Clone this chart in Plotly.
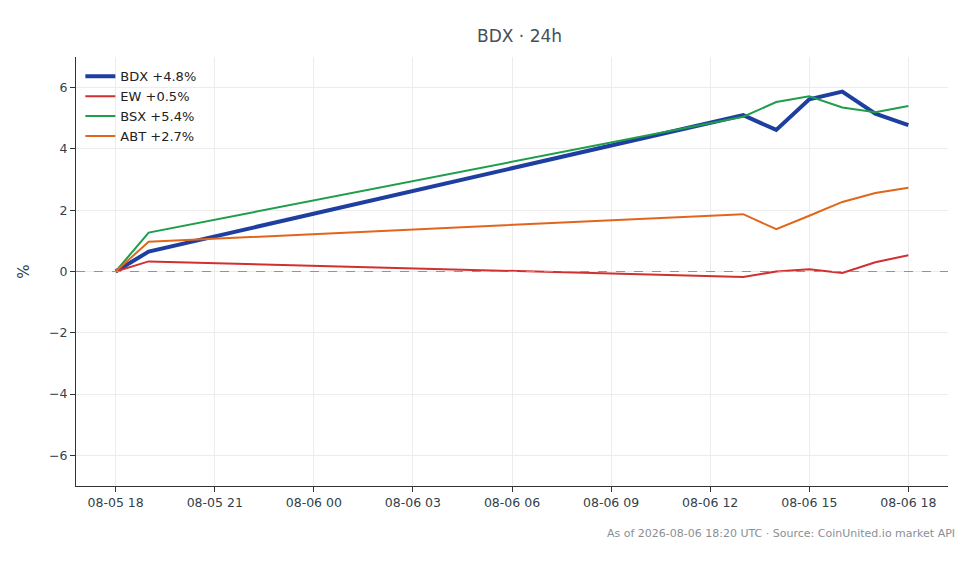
import plotly.graph_objects as go

times = ["2026-08-05 18:00", "2026-08-05 19:00", "2026-08-06 13:00", "2026-08-06 14:00",
         "2026-08-06 15:00", "2026-08-06 16:00", "2026-08-06 17:00", "2026-08-06 18:00"]
bdx = [0, 0.65, 5.1, 4.62, 5.62, 5.87, 5.15, 4.78]
ew = [0, 0.33, -0.18, 0.0, 0.07, -0.05, 0.3, 0.53]
bsx = [0, 1.27, 5.05, 5.53, 5.72, 5.35, 5.2, 5.4]
abt = [0, 0.97, 1.87, 1.38, 1.82, 2.27, 2.56, 2.73]

series = [("BDX +4.8%", bdx, "#1f3fa0", 4), ("EW +0.5%", ew, "#d03030", 2),
          ("BSX +5.4%", bsx, "#1e9e4a", 2), ("ABT +2.7%", abt, "#e0661c", 2)]

fig = go.Figure()
for name, vals, color, w in series:
    fig.add_trace(go.Scatter(x=times, y=vals, name=name, mode="lines",
                             line=dict(color=color, width=w)))

fig.add_hline(y=0, line=dict(color="#8a96a3", width=1, dash="dash"))

fig.update_layout(
    width=980, height=564, plot_bgcolor="white", paper_bgcolor="white",
    font=dict(family="DejaVu Sans", size=12.5, color="#333"),
    title=dict(text="BDX · 24h", x=0.522, xanchor="center", y=0.96,
               font=dict(size=17, color="#444f5a")),
    margin=dict(l=68, r=40, t=49, b=86),
    showlegend=True,
    legend=dict(x=0.005, y=0.99, xanchor="left", yanchor="top", bgcolor="rgba(255,255,255,0)",
                font=dict(size=13, color="#222")),
    xaxis=dict(range=["2026-08-05 16:48", "2026-08-06 19:12"], tickformat="%m-%d %H",
               dtick=3 * 3600 * 1000, tick0="2026-08-05 18:00",
               showgrid=True, gridcolor="#ececec", showline=True, linecolor="#333",
               ticks="outside", tickcolor="#333", tickfont=dict(color="#333f4a")),
    yaxis=dict(range=[-7, 7], dtick=2, title=dict(text="%", font=dict(color="#333f4a")),
               showgrid=True, gridcolor="#ececec", showline=True, linecolor="#333",
               ticks="outside", tickcolor="#333", zeroline=False,
               tickfont=dict(color="#333f4a")),
    annotations=[dict(text="As of 2026-08-06 18:20 UTC · Source: CoinUnited.io market API",
                      xref="paper", yref="paper", x=1.01, y=-0.11, xanchor="right",
                      yanchor="middle", showarrow=False, font=dict(size=11, color="#8a8f96"))],
)

fig.write_html("out.html")
